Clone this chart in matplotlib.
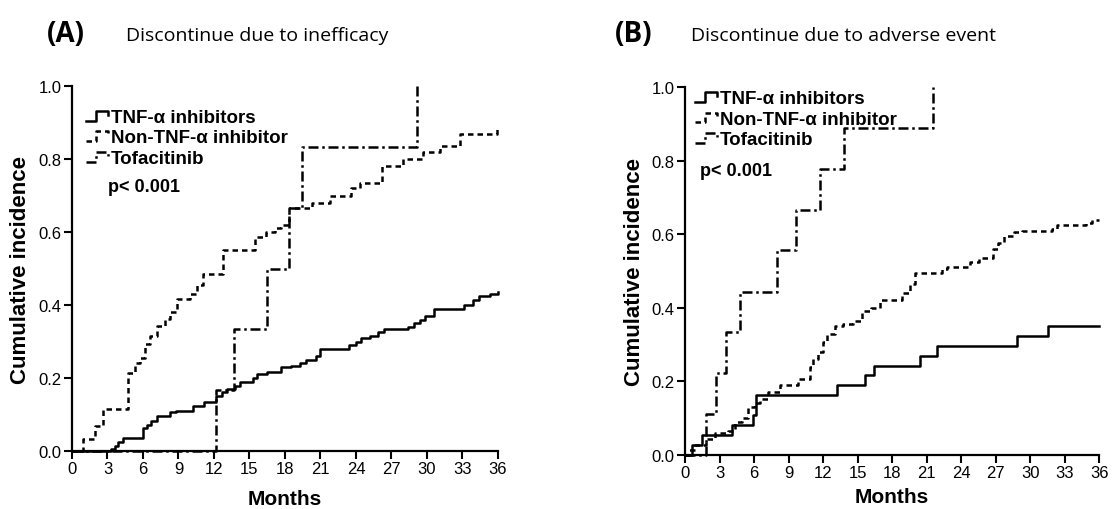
import matplotlib
matplotlib.use("Agg")
import matplotlib.pyplot as plt
from matplotlib.legend_handler import HandlerLine2D
from matplotlib.lines import Line2D
from matplotlib.ticker import FormatStrFormatter

plt.rcParams['font.family'] = ['Liberation Sans', 'DejaVu Sans']

# (A) discontinuation due to inefficacy
a_tnf_t = [0, 3.3, 3.6, 3.9, 4.3, 6.0, 6.3, 6.7, 7.2, 8.3, 8.8, 10.25, 11.2, 12.2, 12.7, 13.1,
           13.8, 14.2, 15.3, 15.6, 16.5, 17.7, 18.5, 19.3, 19.8, 20.6, 21.0, 23.4, 24.0, 24.4,
           25.2, 25.9, 26.4, 28.4, 28.9, 29.4, 29.8, 30.6, 33.1, 33.9, 34.4, 35.3, 36]
a_tnf_v = [0, 0.005, 0.015, 0.025, 0.035, 0.063, 0.07, 0.083, 0.097, 0.106, 0.11, 0.124, 0.133,
           0.152, 0.163, 0.17, 0.179, 0.19, 0.2, 0.21, 0.217, 0.229, 0.233, 0.24, 0.25, 0.26,
           0.28, 0.29, 0.30, 0.31, 0.315, 0.325, 0.335, 0.34, 0.35, 0.36, 0.37, 0.39, 0.40,
           0.415, 0.425, 0.43, 0.435]
a_non_t = [0, 0.95, 1.95, 2.65, 4.75, 5.3, 5.75, 6.2, 6.6, 7.2, 7.85, 8.3, 8.85, 10.0, 10.6,
           11.1, 12.8, 15.5, 16.4, 17.2, 17.7, 18.3, 20.3, 21.8, 23.6, 24.3, 26.2, 28.0, 29.7,
           31.1, 32.8, 35.9, 36]
a_non_v = [0, 0.033, 0.069, 0.115, 0.215, 0.24, 0.255, 0.293, 0.316, 0.343, 0.362, 0.38,
           0.416, 0.43, 0.455, 0.485, 0.552, 0.585, 0.60, 0.61, 0.62, 0.667, 0.68, 0.70, 0.72,
           0.735, 0.78, 0.80, 0.82, 0.836, 0.868, 0.887, 0.887]
a_tofa_t = [0, 12.2, 13.7, 16.5, 18.3, 19.4, 29.2]
a_tofa_v = [0, 0.167, 0.333, 0.5, 0.667, 0.833, 1.0]

# (B) discontinuation due to adverse event
b_tnf_t = [0, 0.58, 1.45, 4.06, 5.9, 6.17, 13.25, 15.65, 16.4, 20.4, 21.9, 28.9, 31.6, 36]
b_tnf_v = [0, 0.027, 0.054, 0.081, 0.108, 0.162, 0.189, 0.216, 0.243, 0.270, 0.297, 0.324,
           0.351, 0.351]
b_non_t = [0, 0.3, 0.9, 1.83, 2.6, 3.77, 4.35, 4.93, 5.5, 6.09, 6.52, 7.25, 8.26, 9.86, 10.87,
           11.16, 11.6, 12.03, 12.3, 13.04, 13.77, 14.6, 15.36, 16.2, 16.96, 18.84, 19.57,
           20.0, 22.3, 22.8, 24.8, 25.6, 26.8, 27.2, 27.7, 28.6, 29.3, 31.9, 32.3, 34.9, 35.4, 36]
b_non_v = [0, 0.013, 0.027, 0.043, 0.06, 0.065, 0.09, 0.10, 0.13, 0.14, 0.152, 0.17, 0.19,
           0.207, 0.24, 0.26, 0.28, 0.307, 0.33, 0.35, 0.355, 0.365, 0.392, 0.40, 0.42, 0.44,
           0.465, 0.495, 0.505, 0.51, 0.525, 0.535, 0.56, 0.575, 0.595, 0.605, 0.61, 0.615,
           0.625, 0.63, 0.638, 0.638]
b_tofa_t = [0, 1.83, 2.7, 3.6, 4.8, 8.0, 9.65, 11.7, 13.8, 21.6]
b_tofa_v = [0, 0.111, 0.222, 0.333, 0.444, 0.556, 0.667, 0.778, 0.889, 1.0]

labels = ['TNF-α inhibitors', 'Non-TNF-α inhibitor', 'Tofacitinib']
styles = ['-', (0, (2.2, 1.6)), (0, (4, 1.5, 1, 1.5))]
xticks = list(range(0, 37, 3))
yticks = [0.0, 0.2, 0.4, 0.6, 0.8, 1.0]


class StepHandler(HandlerLine2D):
    # little step-shaped handles like the original figure
    def create_artists(self, legend, orig_handle, xdescent, ydescent, width, height, fontsize, trans):
        x0 = -xdescent
        y0 = -ydescent
        xs = [x0, x0 + 0.45 * width, x0 + 0.45 * width, x0 + 0.95 * width, x0 + 0.95 * width]
        ys = [y0 + 0.1 * height, y0 + 0.1 * height, y0 + 0.85 * height, y0 + 0.85 * height,
              y0 + 0.55 * height]
        line = Line2D(xs, ys)
        self.update_prop(line, orig_handle, legend)
        line.set_transform(trans)
        return [line]


fig = plt.figure(figsize=(11.19, 5.10), dpi=100)
axA = fig.add_axes([0.0643, 0.1137, 0.3807, 0.7157])
axB = fig.add_axes([0.6122, 0.1059, 0.370, 0.7216])

panels = [
    (axA, [(a_tnf_t, a_tnf_v), (a_non_t, a_non_v), (a_tofa_t, a_tofa_v)],
     (0.015, 0.958), (0.085, 0.725), 9),
    (axB, [(b_tnf_t, b_tnf_v), (b_non_t, b_non_v), (b_tofa_t, b_tofa_v)],
     (0.005, 1.012), (0.037, 0.774), 5),
]

for ax, series, leg_pos, p_pos, xpad in panels:
    handles = []
    for (t, v), ls, lab in zip(series, styles, labels):
        h, = ax.plot(t, v, drawstyle='steps-post', color='black', lw=1.8, linestyle=ls,
                     label=lab, clip_on=False)
        handles.append(h)
    ax.set_xlim(0, 36)
    ax.set_ylim(0, 1.0)
    ax.set_xticks(xticks)
    ax.set_yticks(yticks)
    ax.yaxis.set_major_formatter(FormatStrFormatter('%.1f'))
    for s in ['top', 'right']:
        ax.spines[s].set_visible(False)
    for s in ['left', 'bottom']:
        ax.spines[s].set_linewidth(1.6)
    ax.tick_params(direction='out', length=5.5, width=1.5, labelsize=12, pad=2)
    ax.set_xlabel('Months', fontsize=15, fontweight='bold', labelpad=xpad)
    ax.set_ylabel('Cumulative incidence', fontsize=16, fontweight='bold', labelpad=5)
    leg = ax.legend(handles=handles, loc='upper left', bbox_to_anchor=leg_pos, frameon=False,
                    prop={'weight': 'bold', 'size': 13.5}, handlelength=1.25, handletextpad=0.1,
                    labelspacing=0.18, borderaxespad=0,
                    handler_map={Line2D: StepHandler()})
    ax.text(p_pos[0], p_pos[1], 'p< 0.001', transform=ax.transAxes, fontsize=13,
            fontweight='bold', va='center', ha='left')

fig.text(0.042, 0.933, '(A)', fontsize=20, fontweight='bold', family='Open Sans', va='center')
fig.text(0.1126, 0.93, 'Discontinue due to inefficacy', fontsize=14, family='Open Sans', va='center')
fig.text(0.5496, 0.933, '(B)', fontsize=20, fontweight='bold', family='Open Sans', va='center')
fig.text(0.6175, 0.93, 'Discontinue due to adverse event', fontsize=14, family='Open Sans', va='center')

fig.savefig('out.png', dpi=100)
